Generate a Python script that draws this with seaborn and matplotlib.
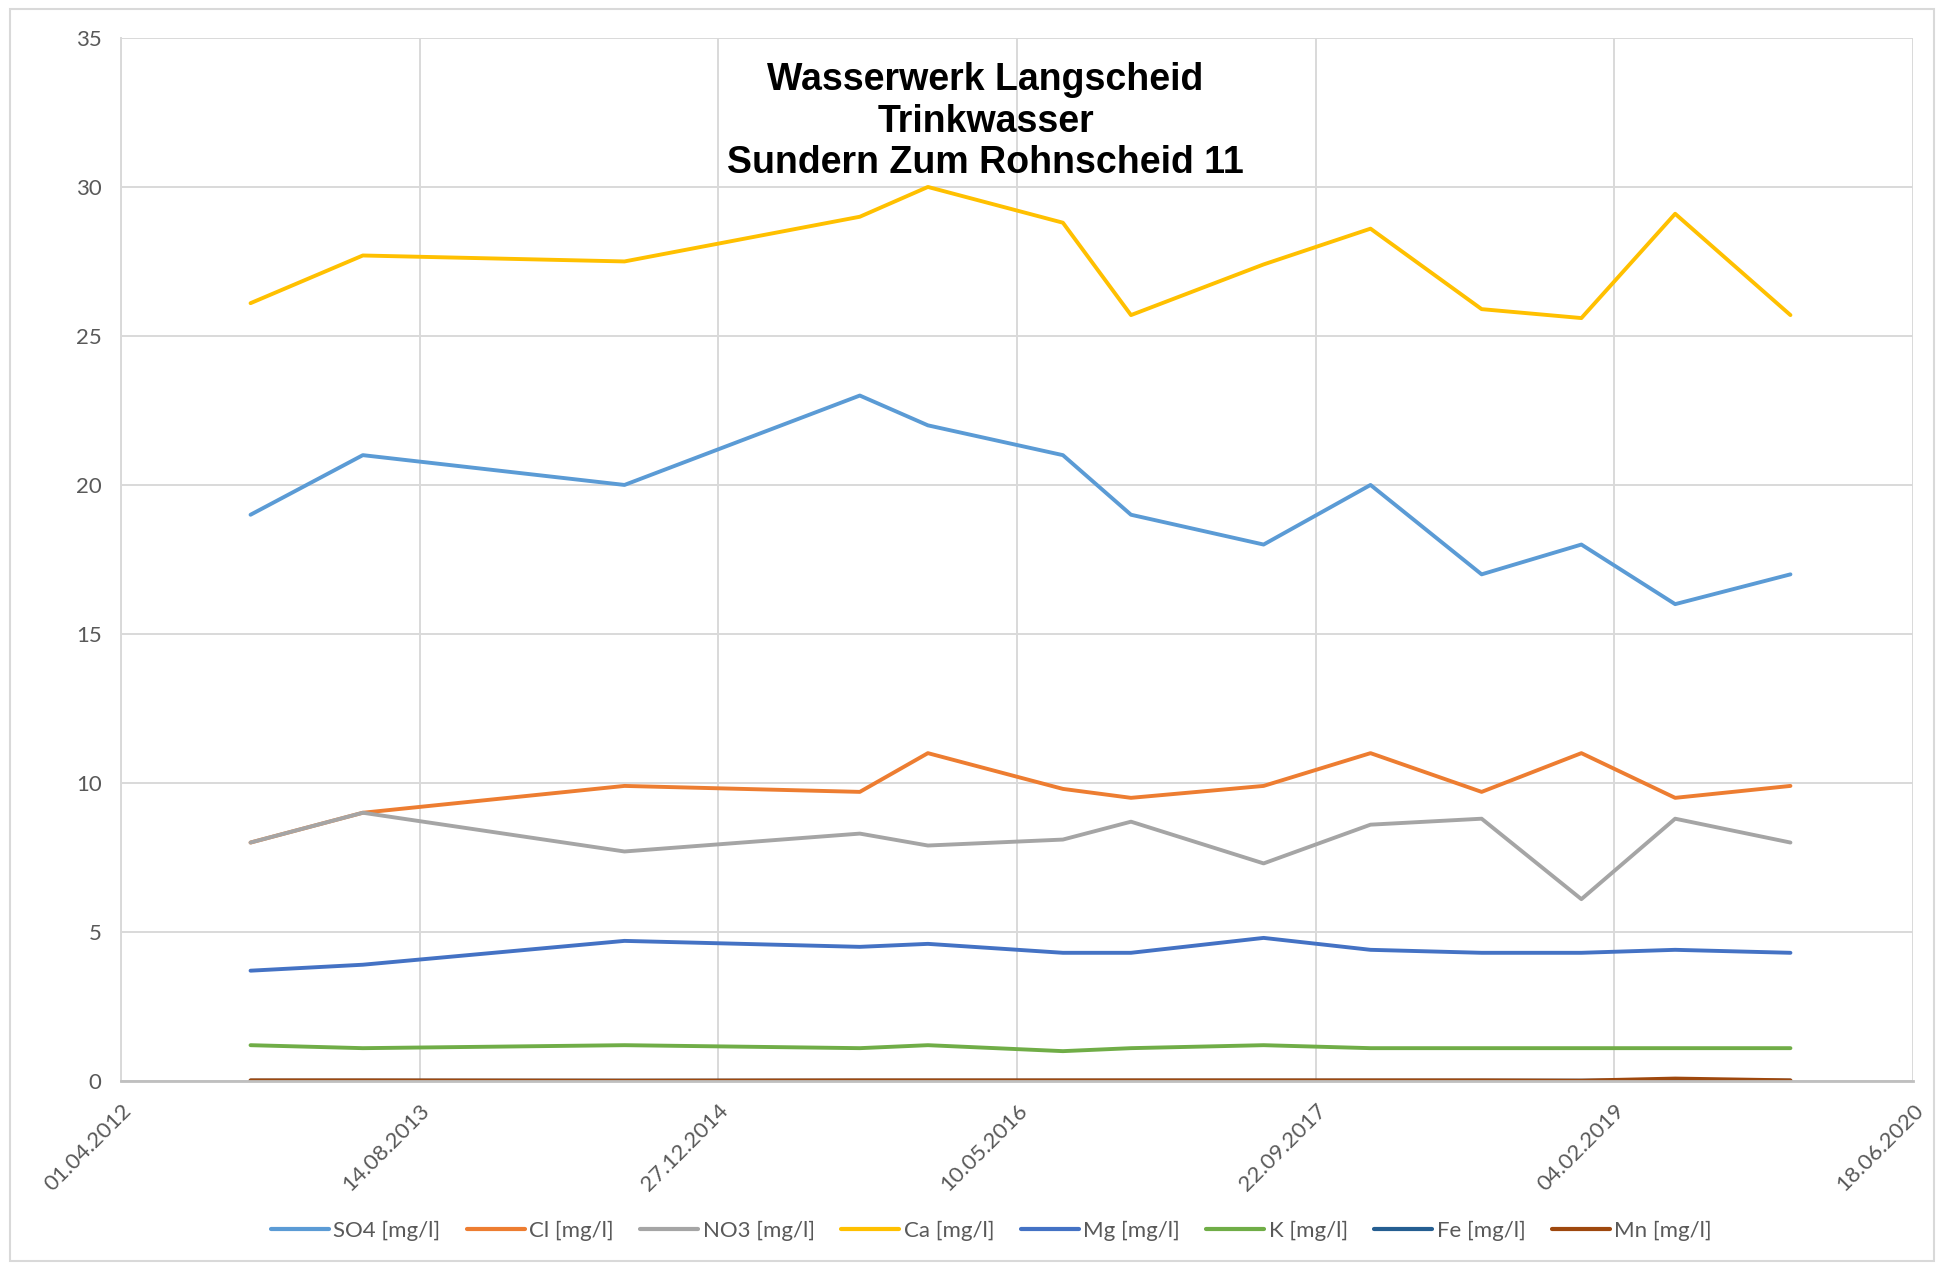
import numpy as np
import matplotlib.pyplot as plt
import matplotlib.dates as mdates
import pandas as pd
import seaborn as sns

dates = ["2012-11-04", "2013-05-11", "2014-07-23", "2015-08-21", "2015-12-13",
         "2016-07-26", "2016-11-17", "2017-06-27", "2017-12-23", "2018-06-27",
         "2018-12-11", "2019-05-17", "2019-11-26"]

so4 = [19, 21, 20, 23, 22, 21, 19, 18, 20, 17, 18, 16, 17]
cl = [8.0, 9.0, 9.9, 9.7, 11.0, 9.8, 9.5, 9.9, 11.0, 9.7, 11.0, 9.5, 9.9]
no3 = [8.0, 9.0, 7.7, 8.3, 7.9, 8.1, 8.7, 7.3, 8.6, 8.8, 6.1, 8.8, 8.0]
ca = [26.1, 27.7, 27.5, 29.0, 30.0, 28.8, 25.7, 27.4, 28.6, 25.9, 25.6, 29.1, 25.7]
mg = [3.7, 3.9, 4.7, 4.5, 4.6, 4.3, 4.3, 4.8, 4.4, 4.3, 4.3, 4.4, 4.3]
k = [1.2, 1.1, 1.2, 1.1, 1.2, 1.0, 1.1, 1.2, 1.1, 1.1, 1.1, 1.1, 1.1]
fe = [0.01, 0.01, 0.01, 0.01, 0.01, 0.01, 0.01, 0.01, 0.01, 0.01, 0.01, 0.02, 0.01]
mn = [0.02, 0.02, 0.01, 0.02, 0.02, 0.02, 0.02, 0.02, 0.02, 0.02, 0.01, 0.08, 0.02]

names = ["SO4 [mg/l]", "Cl [mg/l]", "NO3 [mg/l]", "Ca [mg/l]",
         "Mg [mg/l]", "K [mg/l]", "Fe [mg/l]", "Mn [mg/l]"]
colors = ["#5B9BD5", "#ED7D31", "#A5A5A5", "#FFC000",
          "#4472C4", "#70AD47", "#255E91", "#9E480E"]

title = "Wasserwerk Langscheid\nTrinkwasser\nSundern Zum Rohnscheid 11"

df = pd.DataFrame({"Datum": pd.to_datetime(dates)})
for name, vals in zip(names, [so4, cl, no3, ca, mg, k, fe, mn]):
    df[name] = vals
long_df = df.melt(id_vars="Datum", var_name="Parameter", value_name="Wert")

sns.set_style("white")
plt.rcParams["font.family"] = ["Lato", "DejaVu Sans"]

fig = plt.figure(figsize=(19.44, 12.65), dpi=100)
ax = fig.add_axes([0.0622, 0.1455, 0.9218, 0.8245])

sns.lineplot(data=long_df, x="Datum", y="Wert", hue="Parameter",
             palette=dict(zip(names, colors)), linewidth=2.8, ax=ax, legend=False)

start = pd.Timestamp("2012-04-01")
major = [start + pd.Timedelta(days=500 * i) for i in range(7)]
minor = [start + pd.Timedelta(days=100 * i) for i in range(31)]
ax.set_xlim(mdates.date2num(major[0]), mdates.date2num(major[-1]))
ax.xaxis.set_major_locator(plt.FixedLocator(mdates.date2num(major)))
ax.xaxis.set_minor_locator(plt.FixedLocator(mdates.date2num(minor)))
ax.xaxis.set_major_formatter(mdates.DateFormatter("%d.%m.%Y"))
ax.set_ylim(0, 35)
ax.set_yticks(range(0, 36, 5))

ax.grid(True, which="major", color="#D9D9D9", linewidth=1.4)
ax.set_axisbelow(True)
for side in ["top", "right"]:
    ax.spines[side].set_visible(False)
ax.spines["left"].set_color("#D9D9D9")
ax.spines["left"].set_linewidth(1.4)
ax.spines["bottom"].set_color("#BFBFBF")
ax.spines["bottom"].set_linewidth(2)

ax.tick_params(axis="y", length=0, labelsize=16, labelcolor="#595959", pad=14)
ax.tick_params(axis="x", which="both", direction="out", length=8, width=1.4,
               color="#BFBFBF", labelsize=16, labelcolor="#595959", pad=6)
plt.setp(ax.get_xticklabels(), rotation=45, ha="right", rotation_mode="anchor")
ax.set_xlabel("")
ax.set_ylabel("")

fig.text(0.507, 0.951, title, ha="center", va="top", fontsize=27,
         fontweight="bold", color="black",
         family=["Liberation Sans", "DejaVu Sans"], linespacing=1.2)

handles = [plt.Line2D([], [], color=c, linewidth=3) for c in colors]
leg = fig.legend(handles, names, loc="center", bbox_to_anchor=(0.51, 0.027),
                 ncol=8, frameon=False, fontsize=16, handlelength=2.6,
                 handletextpad=0.2, columnspacing=1.2)
for t in leg.get_texts():
    t.set_color("#595959")

fig.patches.append(plt.Rectangle((0.005, 0.003), 0.99, 0.99, transform=fig.transFigure,
                                 fill=False, edgecolor="#D9D9D9", linewidth=1.5))

plt.savefig("out.png", dpi=100)
